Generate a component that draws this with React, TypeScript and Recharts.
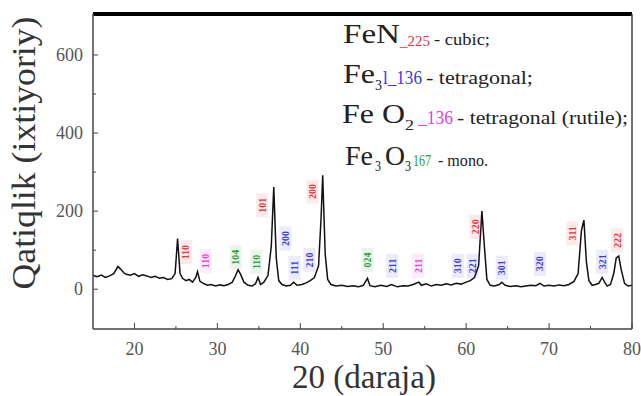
import React from 'react';
import { ComposedChart, Line, Scatter, XAxis, YAxis, ReferenceLine } from 'recharts';

// measured pattern, 2θ (deg) vs intensity (a.u.)
const twoTheta = [
  15, 15.5, 16, 16.5, 17, 17.5, 18, 18.3, 18.7, 19, 19.5, 20, 20.5, 21, 21.5, 22, 22.5, 23, 23.5, 24, 24.5,
  24.9, 25.2, 25.5, 25.8, 26.2, 26.6, 27, 27.4, 27.6, 27.9, 28.3, 28.8, 29.2, 29.8, 30.3, 30.8, 31.3, 31.8,
  32.2, 32.5, 32.8, 33.2, 33.7, 34.2, 34.6, 34.9, 35.2, 35.6, 36.1, 36.5, 36.8, 37.1, 37.4, 37.8, 38.3, 38.8,
  39.2, 39.6, 40.2, 40.7, 41.2, 41.7, 42.2, 42.5, 42.7, 43, 43.3, 43.7, 44.3, 45, 45.7, 46.4, 47, 47.6, 48.1,
  48.4, 49, 49.7, 50.4, 51, 51.7, 52.4, 53, 53.6, 54.3, 54.6, 55.2, 55.8, 56.4, 57, 57.6, 58.2, 58.8, 59.4,
  60, 60.5, 61, 61.5, 61.9, 62.2, 62.5, 62.9, 63.4, 64, 64.3, 64.7, 65.3, 66, 66.6, 67.2, 67.8, 68.4, 68.9,
  69.4, 70, 70.6, 71.2, 71.8, 72.4, 73, 73.5, 73.9, 74.2, 74.5, 74.8, 75.2, 75.6, 76, 76.4, 76.7, 77, 77.4,
  77.8, 78.1, 78.4, 78.7, 79.1, 79.5, 80,
];
const intensity = [
  35, 32, 36, 30, 34, 40, 58, 52, 42, 38, 36, 40, 33, 37, 34, 30, 33, 28, 30, 25, 27,
  40, 130, 40, 28, 22, 25, 18, 30, 45, 20, 15, 10, 12, 8, 11, 9, 12, 18,
  35, 50, 38, 18, 10, 8, 14, 30, 12, 18, 35, 110, 262, 80, 22, 12, 8, 10,
  18, 10, 12, 16, 22, 30, 60, 180, 292, 90, 25, 12, 8, 10, 7, 9, 6, 10, 28,
  9, 6, 10, 7, 12, 6, 9, 8, 12, 18, 10, 14, 8, 12, 10, 14, 11, 15, 13,
  18, 22, 30, 60, 200, 110, 25, 10, 8, 12, 18, 10, 7, 9, 6, 8, 10, 9, 15,
  8, 10, 8, 11, 9, 12, 20, 40, 150, 177, 70, 22, 10, 12, 15, 30, 18, 8, 12,
  40, 80, 85, 50, 15, 8, 10,
];

// hkl markers
const hklPos = [26.2, 28.6, 32.2, 34.7, 35.4, 38.2, 39.3, 41.1, 41.5, 48.1, 51.1, 54.2, 59.0, 60.8, 61.1, 64.3, 68.9, 72.8, 76.4, 78.2];
const hklHeight = [95, 72, 82, 70, 215, 130, 55, 75, 250, 75, 60, 60, 60, 60, 160, 55, 65, 143, 70, 125];
const hklText = ['110', '110', '104', '110', '101', '200', '111', '210', '200', '024', '211', '211', '310', '221', '220', '301', '320', '311', '321', '222'];
const hklPhase = ['FeN', 'FeO2', 'Fe3O3', 'Fe3O3', 'FeN', 'Fe3N', 'Fe3N', 'Fe3N', 'FeN', 'Fe3O3', 'Fe3N', 'FeO2', 'Fe3N', 'Fe3N', 'FeN', 'Fe3N', 'Fe3N', 'FeN', 'Fe3N', 'FeN'];

const xTicks = [20, 25, 30, 35, 40, 45, 50, 55, 60, 65, 70, 75, 80];
const yTicks = [0, 100, 200, 300, 400, 500, 600];

const phaseColor: Record<string, string> = {
  FeN: '#e8323c',
  Fe3N: '#3b3bd4',
  FeO2: '#e040e0',
  Fe3O3: '#2e9e3a',
};

const spectrum = twoTheta.map((x, i) => ({ x, y: intensity[i] }));
const markers = hklPos.map((x, i) => ({ x, y: hklHeight[i], label: hklText[i], phase: hklPhase[i] }));

const serif = 'Liberation Serif';
const axisColor = '#444';

const LeftTick = (props: any) => {
  const { x, y, payload } = props;
  const major = payload.value % 200 === 0;
  return (
    <g>
      <line x1={x} x2={x + (major ? 5 : 3)} y1={y} y2={y} stroke={axisColor} strokeWidth={1} />
      {major && (
        <text x={x - 10} y={y} dy={6} textAnchor="end" fontSize={18} style={{ fontFamily: serif }} fill="#555">
          {payload.value}
        </text>
      )}
    </g>
  );
};

const RightTick = (props: any) => {
  const { x, y } = props;
  return <line x1={x} x2={x - 4} y1={y} y2={y} stroke={axisColor} strokeWidth={1} />;
};

const BottomTick = (props: any) => {
  const { x, y, payload } = props;
  const major = payload.value % 10 === 0;
  return (
    <g>
      <line x1={x} x2={x} y1={y} y2={y - (major ? 6 : 3)} stroke={axisColor} strokeWidth={1} />
      {major && (
        <text x={x} y={y + 26} textAnchor="middle" fontSize={18} style={{ fontFamily: serif }} fill="#555">
          {payload.value}
        </text>
      )}
    </g>
  );
};

const HklMark = (props: any) => {
  const { cx, cy, payload } = props;
  const c = phaseColor[payload.phase];
  return (
    <g>
      <rect x={cx - 6} y={cy - 12} width={12} height={24} fill={c} opacity={0.1} />
      <text
        x={cx}
        y={cy}
        dy={3.5}
        transform={`rotate(-90 ${cx} ${cy})`}
        textAnchor="middle"
        fontSize={10}
        fontWeight="bold"
        style={{ fontFamily: serif }}
        fill={c}
      >
        {payload.label}
      </text>
    </g>
  );
};

// one stretched piece of the phase key
const Piece = ({ x, y, len, size, color = '#222', children }: any) => (
  <text x={x} y={y} fontSize={size} fill={color} textLength={len} lengthAdjust="spacingAndGlyphs">
    {children}
  </text>
);

const App = () => {
  return (
    <div style={{ position: 'absolute', left: 0, top: 0, width: 641, height: 396, background: '#fff' }}>
      <ComposedChart width={641} height={396} data={spectrum} margin={{ top: 14, right: 8, bottom: 0, left: 0 }}>
        <XAxis
          dataKey="x"
          type="number"
          domain={[15, 80]}
          ticks={xTicks}
          height={67}
          tickSize={0}
          tickMargin={0}
          tickLine={false}
          tick={<BottomTick />}
          stroke={axisColor}
          strokeWidth={1.5}
        />
        <YAxis
          yAxisId="l"
          type="number"
          domain={[-102, 705]}
          ticks={yTicks}
          width={93}
          tickSize={0}
          tickMargin={0}
          tickLine={false}
          tick={<LeftTick />}
          stroke={axisColor}
          strokeWidth={1.5}
        />
        <YAxis
          yAxisId="r"
          orientation="right"
          type="number"
          domain={[-102, 705]}
          ticks={yTicks}
          width={1}
          tickSize={0}
          tickMargin={0}
          tickLine={false}
          tick={<RightTick />}
          stroke={axisColor}
          strokeWidth={1.5}
        />
        <ReferenceLine yAxisId="l" y={705} stroke="#000" strokeWidth={4} />
        <Line
          yAxisId="l"
          type="linear"
          dataKey="y"
          stroke="#111"
          strokeWidth={1.5}
          dot={false}
          isAnimationActive={false}
        />
        <Scatter yAxisId="l" data={markers} dataKey="y" shape={<HklMark />} isAnimationActive={false} />
      </ComposedChart>

      <svg width={641} height={396} style={{ position: 'absolute', left: 0, top: 0, pointerEvents: 'none' }}>
        <g style={{ fontFamily: serif }}>
          <text x={364} y={388} textAnchor="middle" fontSize={33} fill="#333">20 (daraja)</text>
          <text
            x={35}
            y={153}
            transform="rotate(-90 35 153)"
            textAnchor="middle"
            fontSize={34}
            fill="#333"
            textLength={273}
            lengthAdjust="spacingAndGlyphs"
          >
            Qatiqlik (ixtiyoriy)
          </text>

          <Piece x={343} y={43} len={57} size={28}>FeN</Piece>
          <Piece x={400} y={46} len={30} size={15} color={phaseColor.FeN}>_225</Piece>
          <Piece x={434} y={45} len={56} size={17}>- cubic;</Piece>

          <Piece x={343} y={83} len={32} size={28}>Fe</Piece>
          <Piece x={375} y={90} len={7} size={14}>3</Piece>
          <Piece x={383} y={84} len={39} size={18} color={phaseColor.Fe3N}>l_136</Piece>
          <Piece x={426} y={84} len={107} size={18}>- tetragonal;</Piece>

          <Piece x={342} y={123} len={63} size={28}>Fe O</Piece>
          <Piece x={405} y={130} len={9} size={15}>2</Piece>
          <Piece x={418} y={124} len={35} size={18} color={phaseColor.FeO2}>_136</Piece>
          <Piece x={457} y={124} len={171} size={18}>- tetragonal (rutile);</Piece>

          <Piece x={345} y={165} len={28} size={27}>Fe</Piece>
          <Piece x={375} y={171} len={6} size={14}>3</Piece>
          <Piece x={385} y={165} len={20} size={27}>O</Piece>
          <Piece x={405} y={171} len={6} size={14}>3</Piece>
          <Piece x={413} y={166} len={18} size={16} color={phaseColor.Fe3O3}>167</Piece>
          <Piece x={438} y={166} len={50} size={17}>- mono.</Piece>
        </g>
      </svg>
    </div>
  );
};

export default App;
